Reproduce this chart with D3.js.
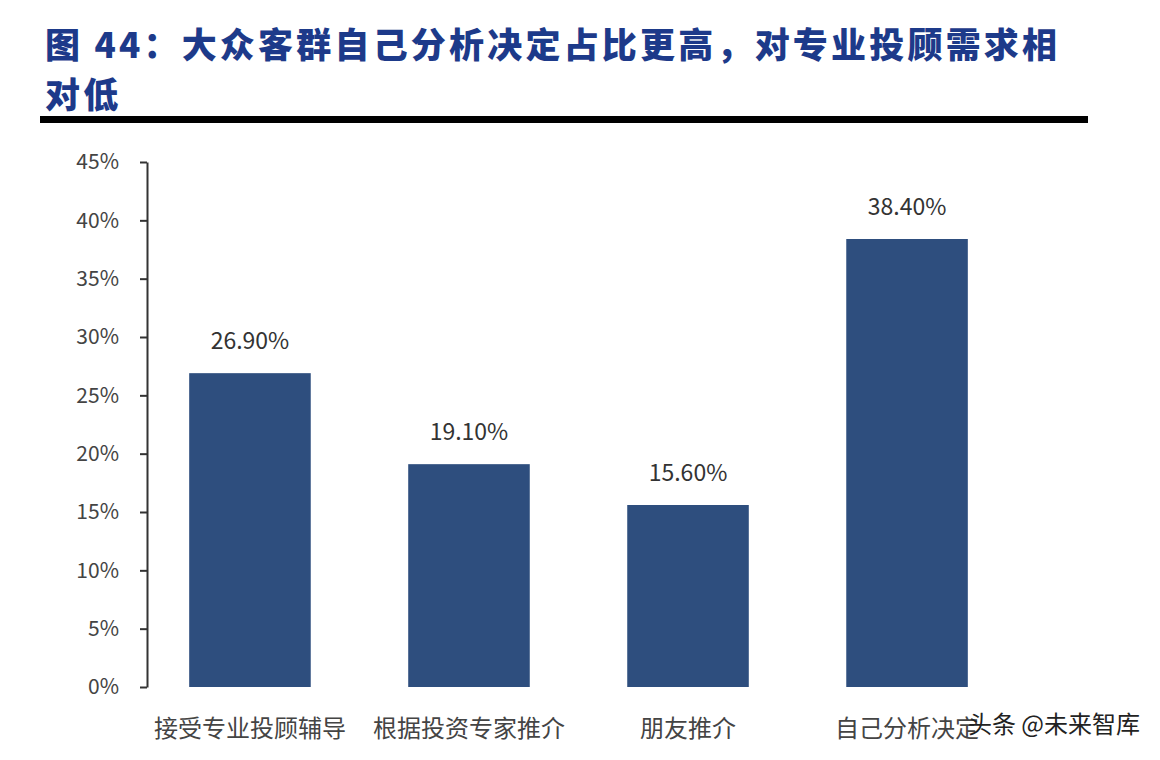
<!DOCTYPE html><html><head><meta charset="utf-8"><script src="https://cdn.jsdelivr.net/npm/d3@7"></script>
<style>body{margin:0;background:#fff}</style></head><body><svg id="c" width="1160" height="760"></svg><script>
const categories=["接受专业投顾辅导","根据投资专家推介","朋友推介","自己分析决定"];
const values=[26.9,19.1,15.6,38.4];
const valueLabels=["26.90%","19.10%","15.60%","38.40%"];
const tickValues=[0,5,10,15,20,25,30,35,40,45];
const titleLines=["图 44：大众客群自己分析决定占比更高，对专业投顾需求相","对低"];
const svg=d3.select("#c");
const f="'Noto Sans CJK SC',sans-serif";
svg.selectAll("text.t").data(titleLines).join("text").attr("x",45).attr("y",(d,i)=>58+i*50)
 .attr("font-family",f).attr("font-weight",900).attr("font-size",35).attr("letter-spacing",3.2).attr("fill","#1d3a8a").text(d=>d);
svg.append("rect").attr("x",40).attr("y",116).attr("width",1048).attr("height",7).attr("fill","#000");
const y=d3.scaleLinear().domain([0,45]).range([687,162]);
const x=d3.scaleBand().domain(categories).range([141,1016]).paddingInner(0.445).paddingOuter(0.22);
const ax=svg.append("g").attr("transform","translate(147,0)").call(d3.axisLeft(y).tickValues(tickValues).tickFormat(d=>d+"%").tickSize(7).tickSizeOuter(0));
ax.select(".domain").attr("stroke","#333").attr("stroke-width",2);
ax.selectAll(".tick line").attr("stroke","#333").attr("stroke-width",2);
ax.selectAll("text").attr("font-family",f).attr("font-size",21).attr("fill","#444").attr("x",-28);
svg.selectAll("rect.b").data(values).join("rect").attr("class","b").attr("x",(d,i)=>x(categories[i])).attr("width",x.bandwidth())
 .attr("y",d=>y(d)).attr("height",d=>y(0)-y(d)).attr("fill","#2e4e7e");
svg.selectAll("text.v").data(values).join("text").attr("x",(d,i)=>x(categories[i])+x.bandwidth()/2).attr("y",d=>y(d)-24)
 .attr("text-anchor","middle").attr("font-family",f).attr("font-size",23).attr("fill","#333").text((d,i)=>valueLabels[i]);
svg.selectAll("text.c").data(categories).join("text").attr("x",d=>x(d)+x.bandwidth()/2).attr("y",737)
 .attr("text-anchor","middle").attr("font-family",f).attr("font-size",24).attr("fill","#444").text(d=>d);
svg.append("text").attr("x",1140).attr("y",733).attr("text-anchor","end").attr("font-family",f).attr("font-size",24).attr("fill","#222").text("头条 @未来智库");
</script></body></html>
